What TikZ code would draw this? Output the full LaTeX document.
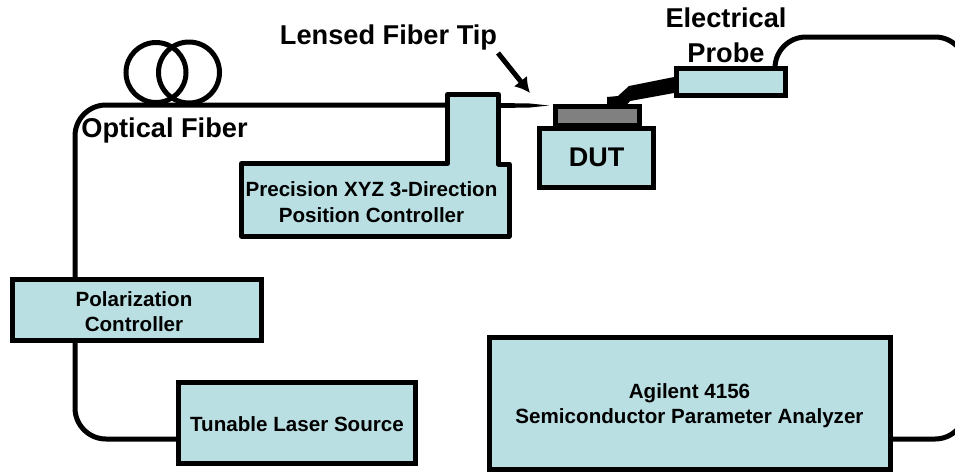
\documentclass[tikz,border=0pt]{standalone}
\usepackage{fontspec}
\usetikzlibrary{arrows.meta}
\setmainfont{Liberation Sans}
\definecolor{boxfill}{HTML}{B9DFE3}
\definecolor{stripgrey}{HTML}{808080}
\tikzset{
  x=1pt,y=-1pt,
  box/.style={draw=black,line width=5pt,fill=boxfill,inner sep=0pt,outer sep=0pt,align=center,font=\bfseries\fontsize{20.6}{26}\selectfont,anchor=north west},
  bigbox/.style={box,font=\bfseries\fontsize{27}{30}\selectfont},
  fiber/.style={draw=black,line width=5pt},
  label/.style={inner sep=0pt,outer sep=0pt,align=center,font=\bfseries\fontsize{27.2}{35}\selectfont},
  boxlabel/.style={label,font=\bfseries\fontsize{20.6}{25.5}\selectfont},
}
\begin{document}
\begin{tikzpicture}
\path[use as bounding box] (0,0) rectangle (955,472);
\clip (0,0) rectangle (955,472);
\coordinate (fiberleft) at (75,279);
\coordinate (fiberlow) at (75,340);
\coordinate (probeout) at (775,68);
\coordinate (loopright) at (966,37);
\coordinate (loopbottom) at (966,439);
\coordinate (stagefiber) at (445,105);
\coordinate (stagefibert) at (500,103);
\coordinate (stagefiberb) at (500,108);
\coordinate (taper1) at (530,103.5);
\coordinate (taper2) at (530,107.5);
\coordinate (tip) at (549,105.5);
\coordinate (circleA) at (156,72.5);
\coordinate (circleB) at (189,72.5);

% nodes
\node[box,minimum width=248.5pt,minimum height=61pt] (pol) at (12.5,279.5) {};
\node[boxlabel] (poltext) at (134,311.5) {Polarization\\Controller};
\node[box,minimum width=236.5pt,minimum height=81pt] (laser) at (178.5,382.5) {};
\node[boxlabel] (lasertext) at (297,424) {Tunable Laser Source};
\node[box,minimum width=400.5pt,minimum height=131.5pt] (agi) at (489.5,337.5) {};
\node[boxlabel] (agitext) at (689.5,405.5) {Agilent 4156\\Semiconductor Parameter Analyzer};

% fibres
\draw[fiber,rounded corners=31pt] (fiberleft) |- (stagefiber);
\draw[fiber,rounded corners=31pt] (fiberlow) |- (laser.west |- 0,439);
\draw[fiber,rounded corners=31pt] (probeout) |- (loopright) |- (agi.east |- loopbottom);
\fill[black] (stagefibert) -- (taper1) -- (tip) -- (taper2) -- (stagefiberb) -- cycle;
\draw[line width=5pt] (circleA) circle (30pt);
\draw[line width=5pt] (circleB) circle (30.5pt);

% position stage
\draw[draw=black,line width=5pt,fill=boxfill,line join=round]
  (447.5,94.5) -- (498.5,94.5) -- (498.5,164) -- (509,164) -- (509,236) -- (241.5,236) -- (241.5,163.5) -- (447.5,163.5) -- cycle;
\node[label,font=\bfseries\fontsize{20.6}{26}\selectfont] (stage) at (371.5,202.5) {Precision XYZ 3-Direction\\Position Controller};

% DUT with chip
\node[bigbox,minimum width=114pt,minimum height=58.5pt] (dut) at (539.5,128.5) {DUT};
\node[draw=black,line width=5pt,fill=stripgrey,minimum width=83.5pt,minimum height=19pt,inner sep=0pt,outer sep=0pt,anchor=north west] (chip) at (555.5,106.5) {};

% probe
\node[box,minimum width=108.5pt,minimum height=26.5pt] (probe) at (676.5,68.5) {};
\fill[black] (674,77) -- (629,86) -- (618,96) -- (607,97) -- (607,106) -- (625,107) -- (630,101) -- (674,93) -- cycle;

% labels
\node[label] (lft) at (388.5,37) {Lensed Fiber Tip};
\node[label] (ofl) at (164.5,130) {Optical Fiber};
\node[label] (epl) at (726,35.5) {Electrical\\Probe};

% arrow
\coordinate (arrowstart) at (498,53);
\coordinate (arrowend) at (530,93);
\draw[line width=5pt,-{Latex[length=15pt,width=17pt]}] (arrowstart) -- (arrowend);
\end{tikzpicture}
\end{document}
